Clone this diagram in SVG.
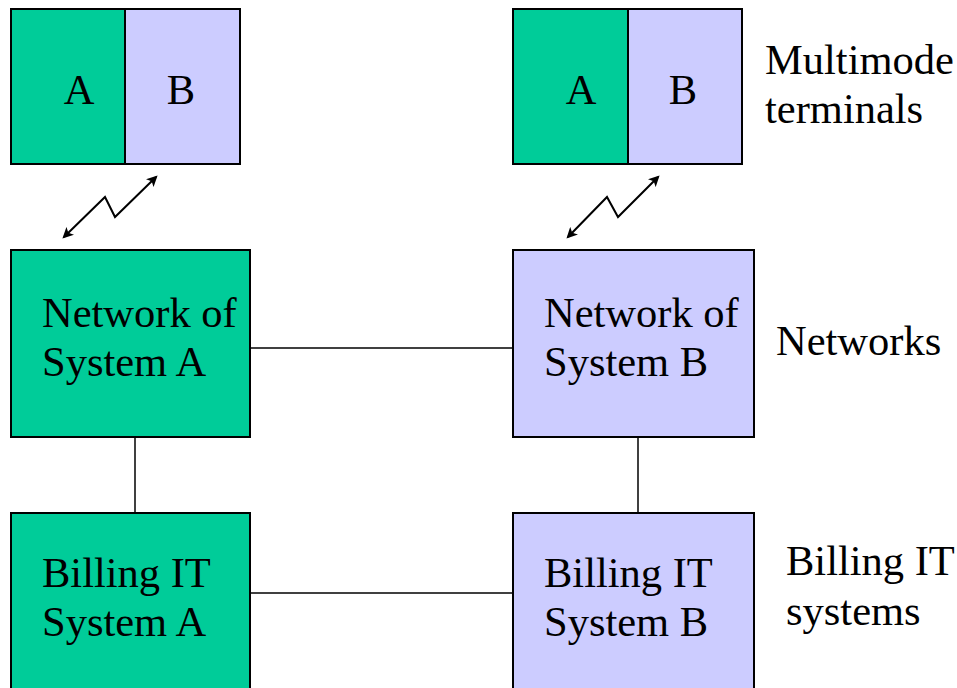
<svg xmlns="http://www.w3.org/2000/svg" width="957" height="688" viewBox="0 0 957 688">
<style>
text{font-family:"Liberation Serif","Times New Roman",serif;font-size:42.5px;fill:#000}
.ga{fill:#00CC99;stroke:#000;stroke-width:2}
.gb{fill:#CCCCFF;stroke:#000;stroke-width:2}
.ln{stroke:#000;stroke-width:1.5;fill:none}
.bolt{stroke:#000;stroke-width:2;fill:none;marker-start:url(#ah);marker-end:url(#ah)}
</style>
<defs>
<marker id="ah" viewBox="0 0 10 10" refX="8" refY="5" markerWidth="12" markerHeight="11" orient="auto-start-reverse" markerUnits="userSpaceOnUse">
<path d="M0,0 L10,5 L0,10 L2.5,5 z" fill="#000"/>
</marker>
</defs>
<g id="connectors">
<line class="ln" x1="248" y1="348" x2="513" y2="348"/>
<line class="ln" x1="248" y1="593" x2="513" y2="593"/>
<line class="ln" x1="135" y1="437" x2="135" y2="513"/>
<line class="ln" x1="638" y1="437" x2="638" y2="513"/>
<path class="bolt" d="M64,237 L105,197 L115,217 L156,177"/>
<path class="bolt" d="M568,237 L607,197 L618,217 L658,177"/>
</g>
<g id="terminal-left">
<rect class="ga" x="11" y="9" width="114" height="155"/>
<rect class="gb" x="125" y="9" width="115" height="155"/>
<text x="79" y="104" text-anchor="middle">A</text>
<text x="181" y="104" text-anchor="middle">B</text>
</g>
<g id="terminal-right">
<rect class="ga" x="513" y="9" width="115" height="155"/>
<rect class="gb" x="628" y="9" width="114" height="155"/>
<text x="581" y="104" text-anchor="middle">A</text>
<text x="683" y="104" text-anchor="middle">B</text>
</g>
<g id="network-a">
<rect class="ga" x="11" y="250" width="239" height="187"/>
<text x="42" y="327">Network of</text>
<text x="42" y="376">System A</text>
</g>
<g id="network-b">
<rect class="gb" x="513" y="250" width="241" height="187"/>
<text x="544" y="327">Network of</text>
<text x="544" y="376">System B</text>
</g>
<g id="billing-a">
<rect class="ga" x="11" y="513" width="239" height="190"/>
<text x="42" y="587">Billing IT</text>
<text x="42" y="636">System A</text>
</g>
<g id="billing-b">
<rect class="gb" x="513" y="513" width="241" height="190"/>
<text x="544" y="587">Billing IT</text>
<text x="544" y="636">System B</text>
</g>
<g id="labels">
<text x="765" y="74">Multimode</text>
<text x="765" y="123">terminals</text>
<text x="776" y="355">Networks</text>
<text x="786" y="575">Billing IT</text>
<text x="786" y="625">systems</text>
</g>
</svg>
